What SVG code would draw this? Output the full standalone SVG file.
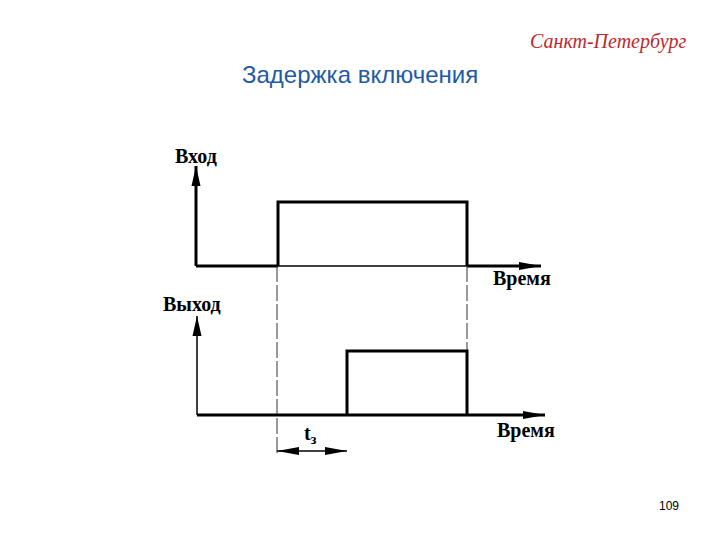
<svg xmlns="http://www.w3.org/2000/svg" width="720" height="540" viewBox="0 0 720 540">
<style>
.lbl{font-family:"Liberation Serif","DejaVu Serif",serif;font-weight:bold;font-size:20px;fill:#000}
.thick{stroke:#000;stroke-width:3;fill:none}
.thin{stroke:#000;stroke-width:1.5;fill:none}
.dash{stroke:#333;stroke-width:1;fill:none;stroke-dasharray:16 3}
</style>
<defs>
<marker id="av" viewBox="0 0 20 10" markerWidth="20" markerHeight="10" refX="20" refY="5" orient="auto-start-reverse" markerUnits="userSpaceOnUse">
<path d="M0,0.5 L20,5 L0,9.5 Z" fill="#000"/>
</marker>
<marker id="ahh" viewBox="0 0 22 10" markerWidth="22" markerHeight="10" refX="22" refY="5" orient="auto-start-reverse" markerUnits="userSpaceOnUse">
<path d="M0,1 L22,5 L0,9 Z" fill="#000"/>
</marker>
</defs>
<rect width="720" height="540" fill="#fff"/>
<text x="530" y="48" font-family="Liberation Serif,serif" font-style="italic" font-size="20" fill="#c0282d">Санкт-Петербург</text>
<text x="242" y="83" font-family="Liberation Sans,Arial,sans-serif" font-size="24" fill="#1f5aa6">Задержка включения</text>
<text x="659" y="510" font-family="Liberation Sans,Arial,sans-serif" font-size="12" fill="#000">109</text>
<g id="connectors">
<line class="thick" x1="196" y1="266" x2="196" y2="166" marker-end="url(#av)"/>
<line class="thick" x1="196" y1="266" x2="278" y2="266"/>
<line class="thin" x1="278" y1="266" x2="467" y2="266"/>
<line class="thick" x1="467" y1="266" x2="541" y2="266" marker-end="url(#ahh)"/>
<path class="thick" d="M278,266 V202 H467 V266"/>
<line class="dash" x1="277" y1="266" x2="277" y2="456"/>
<line class="dash" x1="467" y1="266" x2="467" y2="418"/>
<line class="thin" x1="197" y1="415" x2="197" y2="316" marker-end="url(#av)"/>
<line class="thick" x1="197" y1="415" x2="545" y2="415" marker-end="url(#ahh)"/>
<path class="thick" d="M347,415 V351 H467 V415"/>
<line class="thin" x1="277" y1="451" x2="347" y2="451" marker-start="url(#ahh)" marker-end="url(#ahh)"/>
</g>
<g id="labels">
<text class="lbl" x="175" y="163">Вход</text>
<text class="lbl" x="493" y="285">Время</text>
<text class="lbl" x="163" y="311">Выход</text>
<text class="lbl" x="497" y="437">Время</text>
<text class="lbl" x="304" y="440" font-size="21">t<tspan font-size="14" dy="4">з</tspan></text>
</g>
</svg>
